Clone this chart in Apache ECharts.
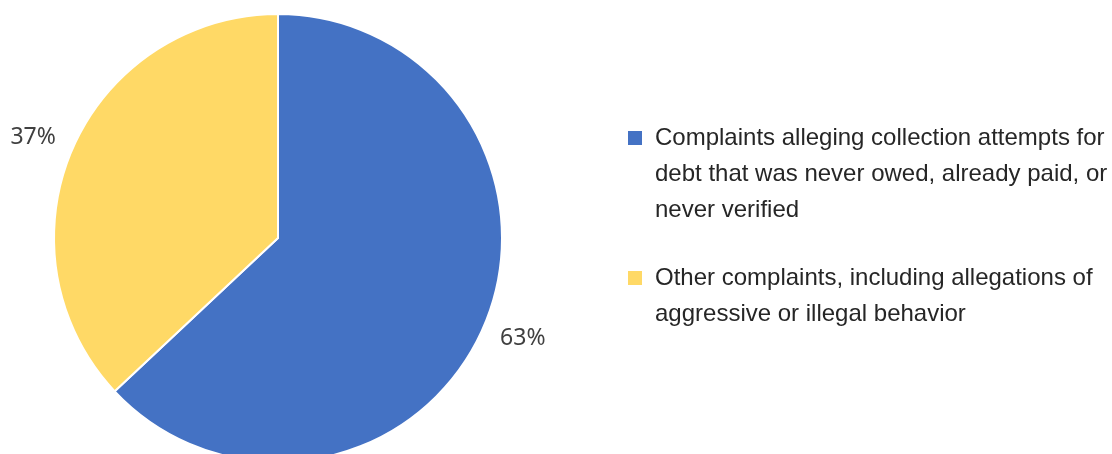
<!DOCTYPE html>
<html>
<head>
<meta charset="utf-8">
<script src="https://cdn.jsdelivr.net/npm/echarts@6/dist/echarts.min.js"></script>
<style>
html,body{margin:0;padding:0;background:#fff;}
#chart{width:1112px;height:454px;}
</style>
</head>
<body>
<div id="chart"></div>
<script>
const categories = [
  'Complaints alleging collection attempts for debt that was never owed, already paid, or never verified',
  'Other complaints, including allegations of aggressive or illegal behavior'
];
const legendLines = [
  ['Complaints alleging collection attempts for', 'debt that was never owed, already paid, or', 'never verified'],
  ['Other complaints, including allegations of', 'aggressive or illegal behavior']
];
const values = [63, 37];
const colors = ['#4472C4', '#FFD966'];

const chart = echarts.init(document.getElementById('chart'));
const lineH = 36;
chart.setOption({
  animation: false,
  legend: {
    orient: 'vertical',
    left: 628,
    top: 48,
    padding: 0,
    itemWidth: 14,
    itemHeight: 14,
    itemGap: -4,
    icon: 'rect',
    itemStyle: { borderWidth: 0 },
    data: categories,
    formatter: function (name) {
      const lines = legendLines[categories.indexOf(name)];
      // blank lines above keep the first line level with the marker
      return new Array(lines.length - 1).fill('').concat(lines).join('\n');
    },
    textStyle: {
      fontFamily: 'Liberation Sans, Arial, sans-serif',
      fontSize: 24,
      lineHeight: lineH,
      color: '#262626',
      padding: [0, 0, 0, 8]
    }
  },
  series: [{
    type: 'pie',
    center: [278, 238],
    radius: 224,
    startAngle: 90,
    clockwise: true,
    avoidLabelOverlap: false,
    itemStyle: { borderColor: '#fff', borderWidth: 2 },
    label: {
      show: true,
      position: 'outside',
      formatter: '{c}%',
      fontFamily: 'Noto Sans, Open Sans, sans-serif',
      fontSize: 23,
      color: '#404040',
      distanceToLabelLine: -11
    },
    labelLine: { show: false, length: 30, length2: 0 },
    emphasis: { disabled: true },
    data: categories.map((c, i) => ({ name: c, value: values[i], itemStyle: { color: colors[i] } }))
  }]
});
</script>
</body>
</html>
